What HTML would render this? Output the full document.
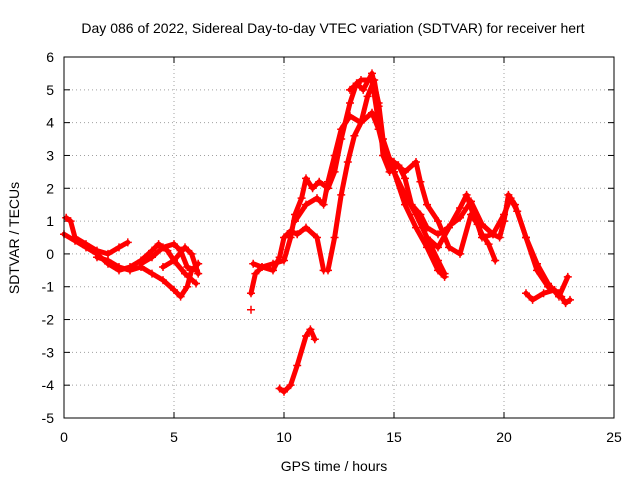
<!DOCTYPE html>
<html><head><meta charset="utf-8"><style>
body{margin:0;background:#fff;}
svg{display:block;font-family:"Liberation Sans",sans-serif;}
</style></head><body>
<svg id="chart" width="640" height="480">
<text x="333" y="33" font-size="14" text-anchor="middle">Day 086 of 2022, Sidereal Day-to-day VTEC variation (SDTVAR) for receiver hert</text>
<text x="0" y="0" font-size="14" text-anchor="middle" transform="translate(19,238) rotate(-90)">SDTVAR / TECUs</text>
<text x="334" y="471" font-size="14" text-anchor="middle">GPS time / hours</text>
<g id="grid"></g>
<g id="ticks"></g>
<g id="series"></g>
<rect x="64" y="57" width="550" height="361" fill="none" stroke="#000"/>
</svg>
<script>
const xTicks=[0,5,10,15,20,25];
const yTicks=[-5,-4,-3,-2,-1,0,1,2,3,4,5,6];
const arcA=[[0,0.6],[0.5,0.4],[1,0.2],[1.5,0.0],[2,-0.3],[2.5,-0.5],[3,-0.4],[3.5,-0.2],[4,0.1],[4.3,0.3],[4.7,0.1],[5,-0.2],[5.5,-0.6],[6,-0.9]];
const arcB=[[0.1,1.1],[0.3,1.0],[0.5,0.5],[1,0.3],[1.5,0.1],[2,0.0],[2.5,0.2],[2.9,0.35]];
const arcC=[[1.5,-0.1],[2,-0.2],[2.5,-0.4],[3,-0.5],[3.5,-0.4],[4,-0.6],[4.5,-0.8],[5,-1.1],[5.3,-1.3],[5.6,-1.0],[5.8,-0.5],[6.1,-0.3]];
const arcD=[[3.5,-0.3],[4,-0.1],[4.5,0.2],[5,0.3],[5.3,0.1],[5.6,-0.4],[6,-0.5]];
const arcE=[[4.5,-0.4],[5,-0.2],[5.5,0.2],[5.8,0],[6.1,-0.6]];
const arcF=[[8.5,-1.2],[8.7,-0.6],[9,-0.4],[9.5,-0.5],[9.8,-0.1],[10,0.5],[10.3,0.7],[10.6,0.6],[11,0.8],[11.5,0.5],[11.8,-0.5]];
const arcF2=[[8.5,-1.7]];
const arcG=[[8.6,-0.3],[9,-0.4],[9.5,-0.3],[10,-0.2],[10.3,0.5],[10.5,1.2],[10.8,1.7],[11,2.3],[11.3,2.0],[11.6,2.2],[12,2.0],[12.3,2.5],[12.6,3.5],[13,4.6],[13.3,5.2],[13.6,5.0],[14,5.5],[14.3,4.6],[14.5,3.5],[15,2.5],[15.5,1.8],[16,1.2],[16.5,0.5],[17,-0.2],[17.3,-0.6]];
const arcH=[[9.8,-4.1],[10,-4.2],[10.3,-4.0],[10.6,-3.4],[11,-2.5],[11.2,-2.3],[11.4,-2.6]];
const arcI=[[10.5,1.0],[11,1.5],[11.5,1.7],[11.8,1.5],[12,2.2],[12.3,3.0],[12.6,3.8],[13,4.2],[13.5,4.0],[14,4.3],[14.3,3.8],[14.6,3.0],[15,2.5],[15.5,1.5],[16,0.8],[16.5,0.2],[17,-0.5],[17.3,-0.7]];
const arcJ=[[12,-0.5],[12.3,0.5],[12.6,1.8],[12.9,2.8],[13.2,3.6],[13.5,4.0],[13.8,4.8],[14.1,5.3],[14.3,4.5],[14.5,3.0],[14.8,2.5],[15.2,2.7],[15.5,2.3],[15.8,1.5],[16.2,1.2],[16.5,0.8],[17,0.6],[17.3,0.7],[17.6,0.9],[18,1.1],[18.5,1.6],[19,0.9],[19.5,0.6],[20,1.2],[20.3,1.7],[20.6,1.3],[21,0.5],[21.5,-0.3],[22,-0.9],[22.5,-1.3],[22.9,-0.7]];
const arcK=[[13,5.0],[13.5,5.3],[14,5.3],[14.3,4.0],[14.6,3.0],[15,2.8],[15.5,2.5],[16,2.8],[16.2,2.2],[16.5,1.5],[17,1.0],[17.5,0.2],[18,0],[18.5,1.2],[18.8,0.9],[19,0.5],[19.5,0.6],[19.8,0.5],[20,1.0],[20.2,1.8],[20.5,1.5],[21,0.5],[21.5,-0.5],[22,-1.0],[22.5,-1.2]];
const arcL=[[16.5,0.5],[17,0.2],[17.5,0.8],[18,1.4],[18.3,1.8],[18.6,1.2],[19,0.6],[19.3,0.3],[19.6,-0.2]];
const arcM=[[21,-1.2],[21.3,-1.4],[21.8,-1.2],[22.3,-1.1],[22.6,-1.3],[22.8,-1.5],[23,-1.4]];
const allArcs=[arcA,arcB,arcC,arcD,arcE,arcF,arcF2,arcG,arcH,arcI,arcJ,arcK,arcL,arcM];

const X0=64,X1=614,Y0=418,Y1=57;
function sx(t){return X0+(t-0)/(25-0)*(X1-X0);}
function sy(v){return Y0-(v+5)/(6+5)*(Y0-Y1);}
const NS="http://www.w3.org/2000/svg";
function mk(tag,attrs,parent){const e=document.createElementNS(NS,tag);for(const k in attrs)e.setAttribute(k,attrs[k]);parent.appendChild(e);return e;}
const grid=document.getElementById('grid'),ticks=document.getElementById('ticks'),series=document.getElementById('series');
xTicks.forEach(t=>{
  const x=sx(t);
  if(t>0&&t<25){const g=mk('line',{x1:x,x2:x,y1:Y1,y2:Y0,stroke:'#a0a0a0','stroke-dasharray':'1,3'},grid);
  
  }
  mk('line',{x1:x,x2:x,y1:Y0,y2:Y0-6,stroke:'#000'},ticks);
  mk('line',{x1:x,x2:x,y1:Y1,y2:Y1+6,stroke:'#000'},ticks);
  const l=mk('text',{x:x,y:Y0+24,'font-size':14,'text-anchor':'middle'},ticks);l.textContent=t;
  
  
});
yTicks.forEach(v=>{
  const y=sy(v);
  if(v>-5&&v<6){const g=mk('line',{x1:X0,x2:X1,y1:y,y2:y,stroke:'#a0a0a0','stroke-dasharray':'1,3'},grid);
  
  }
  mk('line',{x1:X0,x2:X0+6,y1:y,y2:y,stroke:'#000'},ticks);
  mk('line',{x1:X1,x2:X1-6,y1:y,y2:y,stroke:'#000'},ticks);
  const l=mk('text',{x:X0-10,y:y+5,'font-size':14,'text-anchor':'end'},ticks);l.textContent=v;
  
  
});
allArcs.forEach(arc=>{
  const g=mk('g',{},series);
  
  
  if(arc.length>1){
    mk('polyline',{points:arc.map(p=>sx(p[0])+','+sy(p[1])).join(' '),fill:'none',stroke:'#f00','stroke-width':5,'stroke-linejoin':'round','stroke-linecap':'round'},g);
  }
  arc.forEach(p=>{
    const x=sx(p[0]),y=sy(p[1]);
    const m=mk('path',{d:`M${x-4},${y}h8M${x},${y-4}v8`,stroke:'#f00','stroke-width':1.5},g);
    
    
  });
});
</script>
</body></html>
